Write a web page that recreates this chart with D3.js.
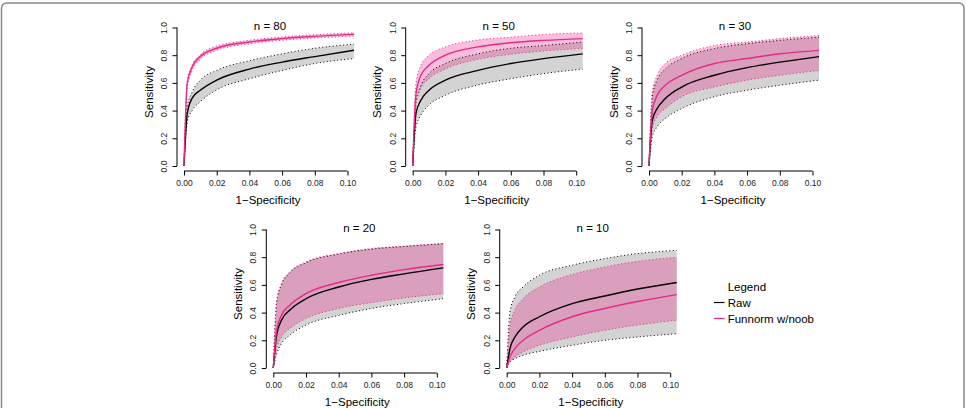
<!DOCTYPE html>
<html>
<head>
<meta charset="utf-8">
<script src="https://cdn.jsdelivr.net/npm/d3@7"></script>
<style>
  body { margin: 0; background: #fff; }
  svg { display: block; font-family: "Liberation Sans", Arial, Helvetica, sans-serif; }
</style>
</head>
<body>
<svg id="chart" width="966" height="408"></svg>
<script>
// sample sizes, one panel each
const panelN = [80, 50, 30, 20, 10];

// 1 - specificity sample points
const fpr = [0, 0.002, 0.005, 0.01, 0.02, 0.04, 0.06, 0.08, 0.104];

// Raw: mean sensitivity and band, rows follow panelN
const rawMid = [
  [0, 0.38, 0.49, 0.547, 0.62, 0.70, 0.75, 0.79, 0.836],
  [0, 0.38, 0.475, 0.547, 0.62, 0.69, 0.74, 0.775, 0.81],
  [0, 0.33, 0.415, 0.487, 0.57, 0.655, 0.71, 0.75, 0.79],
  [0, 0.236, 0.345, 0.417, 0.50, 0.585, 0.64, 0.68, 0.723],
  [0, 0.14, 0.224, 0.296, 0.37, 0.465, 0.52, 0.57, 0.617],
];
const rawHi = [
  [0, 0.43, 0.535, 0.62, 0.69, 0.76, 0.81, 0.85, 0.88],
  [0, 0.46, 0.58, 0.667, 0.74, 0.81, 0.85, 0.87, 0.895],
  [0, 0.50, 0.62, 0.70, 0.776, 0.848, 0.883, 0.907, 0.93],
  [0, 0.47, 0.60, 0.685, 0.76, 0.822, 0.858, 0.877, 0.897],
  [0, 0.405, 0.513, 0.585, 0.67, 0.742, 0.79, 0.826, 0.85],
];
const rawLo = [
  [0, 0.32, 0.40, 0.465, 0.55, 0.63, 0.69, 0.74, 0.776],
  [0, 0.28, 0.367, 0.44, 0.51, 0.585, 0.63, 0.667, 0.70],
  [0, 0.21, 0.283, 0.343, 0.415, 0.50, 0.547, 0.583, 0.62],
  [0, 0.10, 0.176, 0.236, 0.31, 0.38, 0.43, 0.465, 0.50],
  [0, 0.043, 0.067, 0.092, 0.12, 0.164, 0.20, 0.224, 0.248],
];

// Funnorm w/noob
const fnMid = [
  [0, 0.60, 0.715, 0.79, 0.85, 0.895, 0.92, 0.936, 0.95],
  [0, 0.52, 0.655, 0.727, 0.80, 0.86, 0.89, 0.907, 0.92],
  [0, 0.40, 0.51, 0.583, 0.655, 0.74, 0.776, 0.81, 0.835],
  [0, 0.27, 0.38, 0.453, 0.537, 0.617, 0.67, 0.71, 0.747],
  [0, 0.08, 0.14, 0.20, 0.272, 0.37, 0.43, 0.48, 0.53],
];
const fnHi = [
  [0, 0.62, 0.73, 0.805, 0.865, 0.908, 0.932, 0.948, 0.962],
  [0, 0.60, 0.727, 0.80, 0.86, 0.91, 0.93, 0.95, 0.96],
  [0, 0.535, 0.655, 0.74, 0.80, 0.87, 0.895, 0.92, 0.943],
  [0, 0.477, 0.61, 0.694, 0.766, 0.827, 0.863, 0.88, 0.90],
  [0, 0.31, 0.417, 0.50, 0.585, 0.675, 0.73, 0.77, 0.80],
];
const fnLo = [
  [0, 0.57, 0.69, 0.77, 0.835, 0.882, 0.908, 0.924, 0.938],
  [0, 0.44, 0.56, 0.63, 0.70, 0.77, 0.807, 0.83, 0.848],
  [0, 0.27, 0.355, 0.415, 0.50, 0.57, 0.62, 0.655, 0.69],
  [0, 0.14, 0.224, 0.284, 0.357, 0.43, 0.472, 0.506, 0.537],
  [0, 0.043, 0.08, 0.116, 0.164, 0.224, 0.272, 0.31, 0.345],
];

const xTicks = [0, 0.02, 0.04, 0.06, 0.08, 0.10];
const yTicks = [0, 0.2, 0.4, 0.6, 0.8, 1.0];
const legendLabels = ["Raw", "Funnorm w/noob"];

const RAW_COL = "#000000";
const FN_COL = "#E7298A";
const GREY_FILL = "#d3d3d3";
const PINK_FILL = "rgba(231,41,138,0.3)";

// panel origins: pixel of (0,0) for each panel
const origins = [
  { x: 184, y: 166 },
  { x: 412.7, y: 166 },
  { x: 649, y: 166 },
  { x: 273.3, y: 368 },
  { x: 506.7, y: 368 },
];
const PW = 163.5; // px for 0.10
const PH = 138.5; // px for 1.0

const svg = d3.select("#chart");

// outer frame
svg.append("rect")
  .attr("x", 1.5).attr("y", 3)
  .attr("width", 962.5).attr("height", 430)
  .attr("rx", 5)
  .attr("fill", "none")
  .attr("stroke", "#8a8a8a")
  .attr("stroke-width", 1.5);

panelN.forEach((n, i) => {
  const o = origins[i];
  const x = d3.scaleLinear().domain([0, 0.1]).range([o.x, o.x + PW]);
  const y = d3.scaleLinear().domain([0, 1]).range([o.y, o.y - PH]);
  const g = svg.append("g");

  const rows = fpr.map((f, j) => ({
    f,
    rm: rawMid[i][j], rl: rawLo[i][j], rh: rawHi[i][j],
    fm: fnMid[i][j], fl: fnLo[i][j], fh: fnHi[i][j],
  }));

  const band = (lo, hi) => d3.area()
    .x((d) => x(d.f)).y0((d) => y(d[lo])).y1((d) => y(d[hi]))
    .curve(d3.curveMonotoneX);
  const line = (k) => d3.line()
    .x((d) => x(d.f)).y((d) => y(d[k]))
    .curve(d3.curveMonotoneX);

  // bands
  g.append("path").attr("d", band("rl", "rh")(rows)).attr("fill", GREY_FILL);
  g.append("path").attr("d", band("fl", "fh")(rows)).attr("fill", PINK_FILL);

  // dotted band edges
  [["rl", RAW_COL], ["rh", RAW_COL], ["fl", FN_COL], ["fh", FN_COL]].forEach(([k, c]) => {
    g.append("path")
      .attr("d", line(k)(rows))
      .attr("fill", "none")
      .attr("stroke", c)
      .attr("stroke-width", 1)
      .attr("stroke-dasharray", "1,2.5");
  });

  // mean curves
  g.append("path").attr("d", line("rm")(rows))
    .attr("fill", "none").attr("stroke", RAW_COL).attr("stroke-width", 1.4);
  g.append("path").attr("d", line("fm")(rows))
    .attr("fill", "none").attr("stroke", FN_COL).attr("stroke-width", 1.4);

  // x axis (R style, offset below)
  const axY = o.y + 5;
  const xa = g.append("g").attr("transform", `translate(0,${axY})`)
    .call(d3.axisBottom(x).tickValues(xTicks).tickFormat(d3.format(".2f"))
      .tickSize(4.5).tickSizeOuter(0));
  xa.select(".domain").attr("d", `M${x(0)},0H${x(0.1)}`).attr("stroke", "#000");
  xa.selectAll(".tick line").attr("stroke", "#000");
  xa.selectAll(".tick text").attr("y", 9).attr("dy", "0.71em")
    .attr("font-size", 8.5).attr("fill", "#222").attr("font-family", null);

  // y axis
  const axX = o.x - 7;
  const ya = g.append("g").attr("transform", `translate(${axX},0)`)
    .call(d3.axisLeft(y).tickValues(yTicks).tickFormat(d3.format(".1f"))
      .tickSize(4.5).tickSizeOuter(0));
  ya.select(".domain").attr("d", `M0,${y(0)}V${y(1)}`).attr("stroke", "#000");
  ya.selectAll(".tick line").attr("stroke", "#000");
  ya.selectAll(".tick text")
    .attr("x", null).attr("dy", null)
    .attr("transform", "translate(-10,0) rotate(-90)")
    .attr("text-anchor", "middle")
    .attr("font-size", 8.5).attr("fill", "#222").attr("font-family", null);

  // titles
  g.append("text")
    .attr("x", o.x + 86).attr("y", o.y - 136)
    .attr("text-anchor", "middle").attr("font-size", 11.5)
    .text(`n = ${n}`);
  g.append("text")
    .attr("x", o.x + 84).attr("y", axY + 33)
    .attr("text-anchor", "middle").attr("font-size", 11.5)
    .text("1\u2212Specificity");
  g.append("text")
    .attr("transform", `translate(${axX - 24.5},${o.y - 74}) rotate(-90)`)
    .attr("text-anchor", "middle").attr("font-size", 11.5)
    .text("Sensitivity");
});

// legend
const leg = svg.append("g").attr("transform", "translate(714,290.5)");
leg.append("text").attr("x", 13.7).attr("y", 0).attr("font-size", 11.5).text("Legend");
legendLabels.forEach((lab, k) => {
  const yy = 16 * (k + 1);
  leg.append("line")
    .attr("x1", 0).attr("x2", 10.5)
    .attr("y1", yy - 4).attr("y2", yy - 4)
    .attr("stroke", k === 0 ? RAW_COL : FN_COL).attr("stroke-width", 1.2);
  leg.append("text").attr("x", 13.7).attr("y", yy).attr("font-size", 11.5).text(lab);
});
</script>
</body>
</html>
